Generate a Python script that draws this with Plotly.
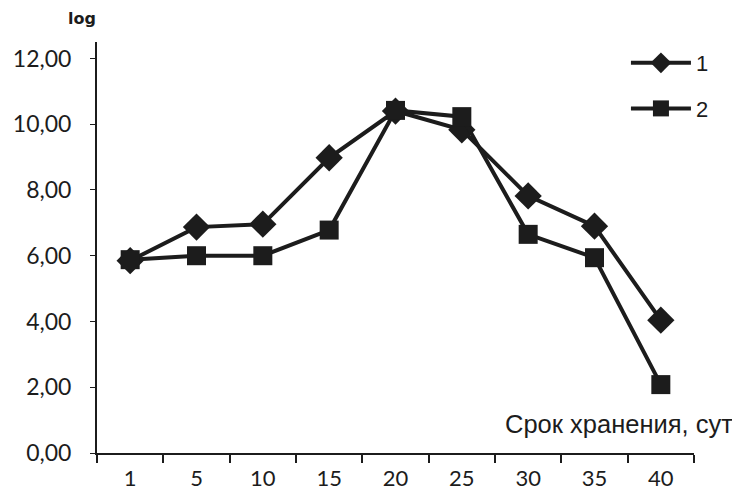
import plotly.graph_objects as go

days = ["1", "5", "10", "15", "20", "25", "30", "35", "40"]
series1 = [5.85, 6.87, 6.96, 8.98, 10.40, 9.83, 7.82, 6.90, 4.04]
series2 = [5.88, 6.00, 6.00, 6.78, 10.42, 10.23, 6.65, 5.94, 2.08]
y_ticks = [0, 2, 4, 6, 8, 10, 12]
y_tick_labels = ["0,00", "2,00", "4,00", "6,00", "8,00", "10,00", "12,00"]

TICKFONT = "Lato, Open Sans, sans-serif"
C = "#1c1c1c"

fig = go.Figure()
fig.add_trace(go.Scatter(x=days, y=series1, name="1", mode="lines+markers",
                         line=dict(color=C, width=4),
                         marker=dict(symbol="diamond", size=21, color=C),
                         legendgroup="a"))
fig.add_trace(go.Scatter(x=days, y=series2, name="2", mode="lines+markers",
                         line=dict(color=C, width=4),
                         marker=dict(symbol="square", size=19, color=C),
                         legendgroup="b"))

fig.update_layout(
    width=740, height=493,
    margin=dict(l=89, r=54, t=34, b=48),
    paper_bgcolor="white", plot_bgcolor="white",
    font=dict(family=TICKFONT, size=22, color=C),
    showlegend=True,
    legend=dict(x=0.886, xanchor="left", y=1.0, yanchor="top",
                font=dict(family="Liberation Sans, Arial", size=22),
                tracegroupgap=14, itemwidth=60, bgcolor="rgba(0,0,0,0)"),
    xaxis=dict(type="category", range=[-0.5, 8.5], showgrid=False, showline=True,
               linecolor=C, linewidth=2, automargin=False,
               ticks="outside", ticklen=8, tickwidth=2, tickcolor=C,
               tickson="boundaries", ticklabelstandoff=5,
               tickfont=dict(family=TICKFONT, size=22)),
    yaxis=dict(range=[0, 12.5], tickvals=y_ticks, ticktext=y_tick_labels,
               showgrid=False, showline=True, linecolor=C, linewidth=2,
               automargin=False,
               ticks="outside", ticklen=5, tickwidth=1, tickcolor=C,
               ticklabelstandoff=14,
               zeroline=False, tickfont=dict(family=TICKFONT, size=23)),
    annotations=[
        dict(text="<b>log</b>", xref="paper", yref="paper", x=-0.025, y=1.056,
             xanchor="center", yanchor="middle", showarrow=False,
             font=dict(family="DejaVu Sans", size=16, color=C)),
        dict(text="Срок хранения, сут", xref="paper", yref="y", x=1.068, y=0.88,
             xanchor="right", yanchor="middle", showarrow=False,
             font=dict(family="Liberation Sans, Arial", size=25.5, color=C)),
    ],
)

fig.write_html("out.html")
